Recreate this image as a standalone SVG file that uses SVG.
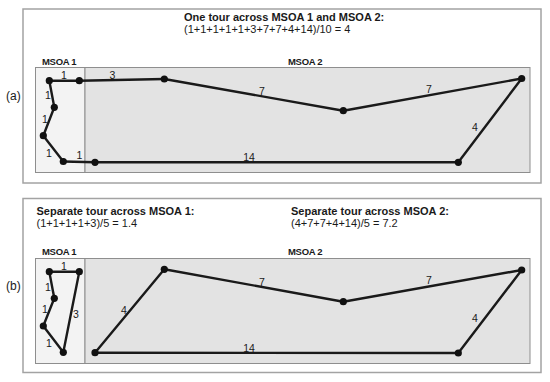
<svg xmlns="http://www.w3.org/2000/svg" width="550" height="382" viewBox="0 0 550 382">
<style>
  text { font-family: "Liberation Sans", Arial, sans-serif; fill: #1a1a1a; }
  .panel { fill: #ffffff; stroke: #a3a3a3; stroke-width: 1.5; }
  .m1 { fill: #f3f3f3; stroke: #8e8e8e; stroke-width: 1; }
  .m2 { fill: #e3e3e3; stroke: #8e8e8e; stroke-width: 1; }
  .title { font-size: 11px; font-weight: bold; }
  .formula { font-size: 11px; }
  .region { font-size: 9.5px; font-weight: bold; letter-spacing: -0.3px; }
  .tag { font-size: 12px; }
  .el { font-size: 10.5px; text-anchor: middle; }
  .edge { stroke: #1a1a1a; stroke-width: 2.4; stroke-linecap: round; fill: none; }
  .node { fill: #111111; }
</style>
<rect width="550" height="382" fill="#ffffff"/>

<!-- Panel (a) -->
<g id="panel-a">
  <rect class="panel" x="23" y="9" width="518" height="174"/>
  <text class="tag" x="6" y="100">(a)</text>
  <text class="title" x="184" y="21">One tour across MSOA 1 and MSOA 2:</text>
  <text class="formula" x="184" y="33">(1+1+1+1+1+3+7+7+4+14)/10 = 4</text>
  <g id="a-msoa1"><rect class="m1" x="35.5" y="67.5" width="49.5" height="105"/><text class="region" x="42" y="65">MSOA 1</text></g>
  <g id="a-msoa2"><rect class="m2" x="85" y="67.5" width="445" height="105"/><text class="region" x="288" y="65">MSOA 2</text></g>
</g>

<g id="connectors-a">
  <line class="edge" x1="49.3" y1="80.7" x2="79.3" y2="80.7"/>
  <line class="edge" x1="79.3" y1="80.7" x2="164.3" y2="79"/>
  <line class="edge" x1="164.3" y1="79" x2="343.3" y2="110.7"/>
  <line class="edge" x1="343.3" y1="110.7" x2="521.7" y2="78.5"/>
  <line class="edge" x1="521.7" y1="78.5" x2="458.3" y2="162.3"/>
  <line class="edge" x1="458.3" y1="162.3" x2="95" y2="162.3"/>
  <line class="edge" x1="95" y1="162.3" x2="63.3" y2="161.5"/>
  <line class="edge" x1="63.3" y1="161.5" x2="43.3" y2="135.7"/>
  <line class="edge" x1="43.3" y1="135.7" x2="54.3" y2="107.3"/>
  <line class="edge" x1="54.3" y1="107.3" x2="49.3" y2="80.7"/>
  <text class="el" x="64" y="79">1</text>
  <text class="el" x="112.5" y="79">3</text>
  <text class="el" x="262" y="95">7</text>
  <text class="el" x="429" y="93">7</text>
  <text class="el" x="475" y="131">4</text>
  <text class="el" x="249" y="160.5">14</text>
  <text class="el" x="79.5" y="159">1</text>
  <text class="el" x="49" y="156.5">1</text>
  <text class="el" x="45" y="122.5">1</text>
  <text class="el" x="48" y="99">1</text>
</g>

<g id="a-n1"><circle class="node" cx="49.3" cy="80.7" r="3.6"/></g>
<g id="a-n2"><circle class="node" cx="79.3" cy="80.7" r="3.6"/></g>
<g id="a-n3"><circle class="node" cx="164.3" cy="79" r="3.6"/></g>
<g id="a-n4"><circle class="node" cx="343.3" cy="110.7" r="3.6"/></g>
<g id="a-n5"><circle class="node" cx="521.7" cy="78.5" r="3.6"/></g>
<g id="a-n6"><circle class="node" cx="458.3" cy="162.3" r="3.6"/></g>
<g id="a-n7"><circle class="node" cx="95" cy="162.3" r="3.6"/></g>
<g id="a-n8"><circle class="node" cx="63.3" cy="161.5" r="3.6"/></g>
<g id="a-n9"><circle class="node" cx="43.3" cy="135.7" r="3.6"/></g>
<g id="a-n10"><circle class="node" cx="54.3" cy="107.3" r="3.6"/></g>

<!-- Panel (b) -->
<g id="panel-b">
  <rect class="panel" x="23" y="198.5" width="518" height="174"/>
  <text class="tag" x="6" y="290">(b)</text>
  <text class="title" x="36.5" y="214.5">Separate tour across MSOA 1:</text>
  <text class="formula" x="36.5" y="226.5">(1+1+1+1+3)/5 = 1.4</text>
  <text class="title" x="291" y="214.5">Separate tour across MSOA 2:</text>
  <text class="formula" x="291" y="226.5">(4+7+7+4+14)/5 = 7.2</text>
  <g id="b-msoa1"><rect class="m1" x="35.5" y="258.5" width="49.5" height="105"/><text class="region" x="42" y="255">MSOA 1</text></g>
  <g id="b-msoa2"><rect class="m2" x="85" y="258.5" width="445" height="105"/><text class="region" x="288" y="255">MSOA 2</text></g>
</g>

<g id="connectors-b">
  <line class="edge" x1="49.3" y1="271.7" x2="79.3" y2="271.7"/>
  <line class="edge" x1="79.3" y1="271.7" x2="63.3" y2="352.3"/>
  <line class="edge" x1="63.3" y1="352.3" x2="43.3" y2="326"/>
  <line class="edge" x1="43.3" y1="326" x2="54.3" y2="298.3"/>
  <line class="edge" x1="54.3" y1="298.3" x2="49.3" y2="271.7"/>
  <line class="edge" x1="95" y1="352.7" x2="164.3" y2="269.3"/>
  <line class="edge" x1="164.3" y1="269.3" x2="343.3" y2="301.7"/>
  <line class="edge" x1="343.3" y1="301.7" x2="521.7" y2="270"/>
  <line class="edge" x1="521.7" y1="270" x2="458.3" y2="353"/>
  <line class="edge" x1="458.3" y1="353" x2="95" y2="352.7"/>
  <text class="el" x="64" y="270">1</text>
  <text class="el" x="48" y="290.5">1</text>
  <text class="el" x="45" y="312.5">1</text>
  <text class="el" x="49" y="346.5">1</text>
  <text class="el" x="76" y="317.5">3</text>
  <text class="el" x="124" y="314">4</text>
  <text class="el" x="262" y="285.5">7</text>
  <text class="el" x="429" y="284">7</text>
  <text class="el" x="475" y="322">4</text>
  <text class="el" x="249" y="351.5">14</text>
</g>

<g id="b-n1"><circle class="node" cx="49.3" cy="271.7" r="3.6"/></g>
<g id="b-n2"><circle class="node" cx="79.3" cy="271.7" r="3.6"/></g>
<g id="b-n3"><circle class="node" cx="63.3" cy="352.3" r="3.6"/></g>
<g id="b-n4"><circle class="node" cx="43.3" cy="326" r="3.6"/></g>
<g id="b-n5"><circle class="node" cx="54.3" cy="298.3" r="3.6"/></g>
<g id="b-n6"><circle class="node" cx="95" cy="352.7" r="3.6"/></g>
<g id="b-n7"><circle class="node" cx="164.3" cy="269.3" r="3.6"/></g>
<g id="b-n8"><circle class="node" cx="343.3" cy="301.7" r="3.6"/></g>
<g id="b-n9"><circle class="node" cx="521.7" cy="270" r="3.6"/></g>
<g id="b-n10"><circle class="node" cx="458.3" cy="353" r="3.6"/></g>
</svg>
